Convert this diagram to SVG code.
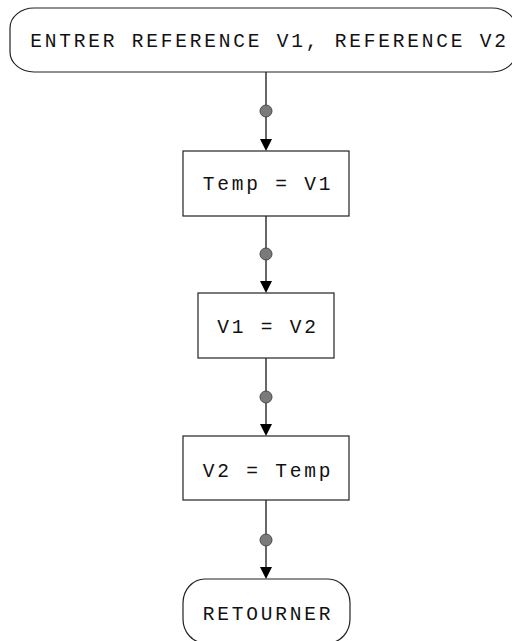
<svg xmlns="http://www.w3.org/2000/svg" width="512" height="641" viewBox="0 0 512 641">
<defs>
<style>
.shape{fill:#ffffff;stroke:#222222;stroke-width:1.2}
.lbl{font-family:"Liberation Mono","DejaVu Sans Mono",monospace;font-size:19.5px;letter-spacing:2.8px;fill:#111111;text-anchor:middle}
.edge{stroke:#000000;stroke-width:1.2;fill:none}
.dot{fill:#7a7a7a;stroke:#4a4a4a;stroke-width:1}
.head{fill:#000000}
</style>
</defs>
<rect width="512" height="641" fill="#ffffff"/>
<g id="connectors">
<line class="edge" x1="266" y1="72" x2="266" y2="140"/>
<circle class="dot" cx="266" cy="111" r="6"/>
<polygon class="head" points="260,139 272,139 266,151"/>
<line class="edge" x1="266" y1="216" x2="266" y2="282"/>
<circle class="dot" cx="266" cy="254" r="6"/>
<polygon class="head" points="260,281 272,281 266,293"/>
<line class="edge" x1="266" y1="358" x2="266" y2="425"/>
<circle class="dot" cx="266" cy="397" r="6"/>
<polygon class="head" points="260,424 272,424 266,436"/>
<line class="edge" x1="266" y1="500" x2="266" y2="568"/>
<circle class="dot" cx="266" cy="540" r="6"/>
<polygon class="head" points="260,567 272,567 266,579"/>
</g>
<g id="start">
<rect class="shape" x="10" y="8" width="506" height="64" rx="24" ry="20"/>
<text class="lbl" x="269.5" y="46.5">ENTRER REFERENCE V1, REFERENCE V2</text>
</g>
<g id="temp-v1">
<rect class="shape" x="183" y="151" width="166" height="65"/>
<text class="lbl" x="268" y="190">Temp = V1</text>
</g>
<g id="v1-v2">
<rect class="shape" x="198" y="293" width="136" height="65"/>
<text class="lbl" x="268" y="333">V1 = V2</text>
</g>
<g id="v2-temp">
<rect class="shape" x="183" y="436" width="166" height="64"/>
<text class="lbl" x="268" y="476.5">V2 = Temp</text>
</g>
<g id="end">
<rect class="shape" x="183" y="579" width="167" height="64" rx="22" ry="24"/>
<text class="lbl" x="268" y="620">RETOURNER</text>
</g>
</svg>
